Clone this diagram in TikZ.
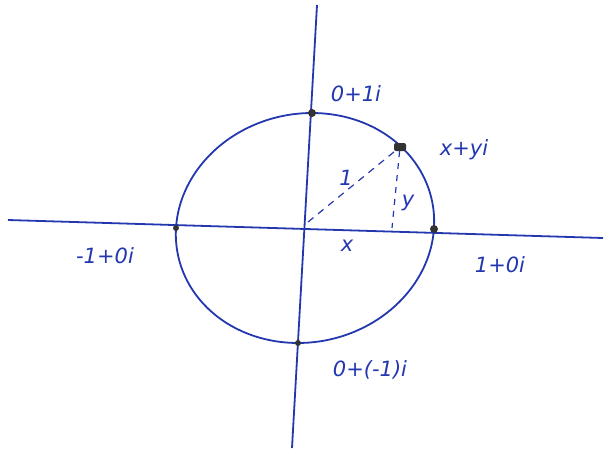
\documentclass[tikz,border=0pt]{standalone}
\usepackage{fontspec}
\setmainfont{DejaVu Sans}
\definecolor{pen}{RGB}{35,55,175}
\begin{document}
\begin{tikzpicture}[x=1pt,y=-1pt,
  ink/.style={draw=pen,line width=1.8pt},
  dot/.style={circle,fill=black!80,inner sep=0pt,minimum size=8pt},
  lbl/.style={text=pen,font=\itshape\fontsize{21}{21}\selectfont,inner sep=0pt}]
\useasboundingbox (0,0) rectangle (605,450);
% axes
\coordinate (xl) at (8,220);
\coordinate (xr) at (603,238);
\coordinate (yt) at (317,5);
\coordinate (yb) at (292,448);
\draw[ink] (xl) -- (xr);
\draw[ink] (yt) -- (yb);
% circle
\draw[ink] plot[domain=0:360,samples=73,smooth cycle] ({305+129*cos(\x)+7*sin(\x)},{228-115*sin(\x)});
% points
\node[dot] (top) at (312,113) {};
\node[dot] (right) at (434,229) {};
\node[dot,minimum size=6pt] (bottom) at (298,343) {};
\node[dot,minimum size=6pt] (left) at (176,228) {};
\node[dot,minimum width=12pt,minimum height=8pt,rectangle,rounded corners=2pt] (p) at (400,147) {};
\coordinate (o) at (308,222);
\coordinate (foot) at (392,228);
\draw[ink,dash pattern=on 7pt off 6pt,line width=1.2pt] (o) -- (p);
\draw[ink,dash pattern=on 6pt off 6pt,line width=1.2pt] (p) -- (foot);
% labels
\node[lbl] (l1) at (356,94) {0+1i};
\node[lbl] (l2) at (464,150) {x+yi};
\node[lbl] (l3) at (346,178) {1};
\node[lbl] (l4) at (408,203) {y};
\node[lbl] (l5) at (347,246) {x};
\node[lbl] (l6) at (105,256) {-1+0i};
\node[lbl] (l7) at (500,265) {1+0i};
\node[lbl] (l8) at (370,370) {0+(-1)i};
\end{tikzpicture}
\end{document}
